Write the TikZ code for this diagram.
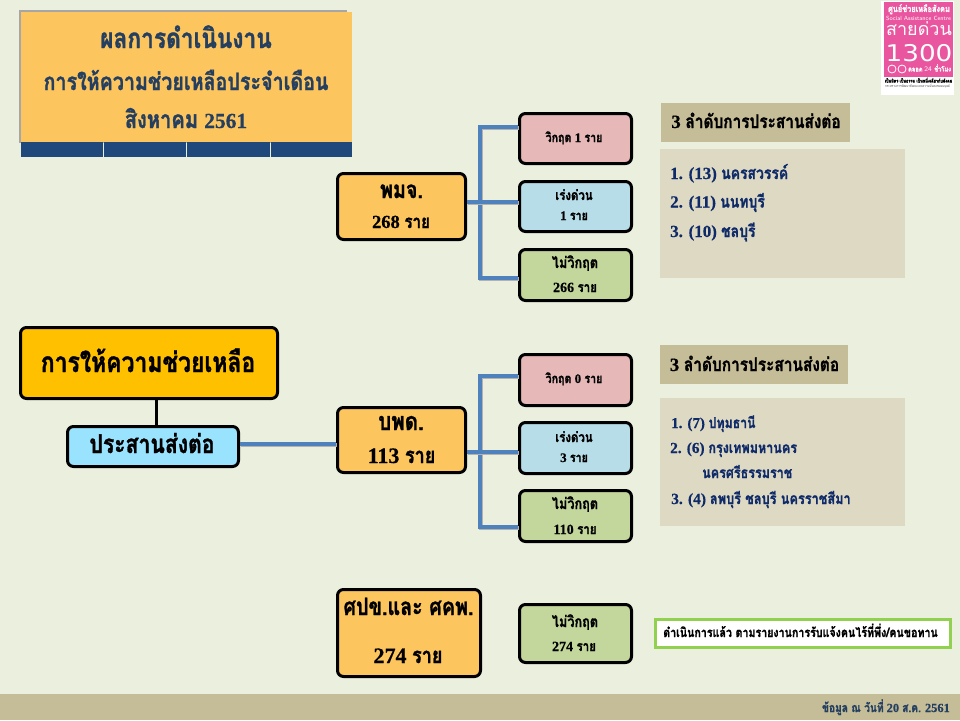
\documentclass[tikz,border=0pt]{standalone}
\usepackage{fontspec}
\setmainfont{Liberation Serif}[BoldFeatures={FakeBold=0.5}]
\newfontfamily\thaif[Script=Thai,FakeStretch=0.82,BoldFeatures={FakeBold=1.2}]{Loma}
\newfontfamily\thaiw[Script=Thai]{Loma}
\newfontfamily\dejaf[FakeStretch=1.14]{DejaVu Sans}
\newcommand{\T}[1]{{\thaif\bfseries #1}}
\newcommand{\fs}[1]{\fontsize{#1}{#1}\selectfont\bfseries}
\definecolor{bgc}{HTML}{EBEFDE}
\definecolor{orangec}{HTML}{FDC55D}
\definecolor{goldc}{HTML}{FFC000}
\definecolor{pinkc}{HTML}{E6B8B7}
\definecolor{bluec}{HTML}{B7DDE8}
\definecolor{greenc}{HTML}{C3D69B}
\definecolor{skyc}{HTML}{99E3FF}
\definecolor{tanc}{HTML}{C4BD97}
\definecolor{listc}{HTML}{DDD9C3}
\definecolor{navyc}{HTML}{1F497D}
\definecolor{titlec}{HTML}{243F60}
\definecolor{listt}{HTML}{0F2A68}
\definecolor{connc}{HTML}{4F81BD}
\definecolor{logoc}{HTML}{E9559F}
\definecolor{notec}{HTML}{92D050}
\tikzset{
  x=1pt,y=-1pt,
  boxed/.style={draw=black,line width=3pt,rounded corners=6pt,inner sep=0pt},
  flat/.style={inner sep=0pt,align=center},
  conn/.style={draw=connc,line width=4.2pt,line join=miter,preaction={draw=black!30,line width=4.2pt,transform canvas={xshift=0.8pt,yshift=-1.2pt}}},
  blk/.style={draw=black,line width=3pt},
  lbl/.style={inner sep=0pt,anchor=base,text=black},
  lft/.style={inner sep=0pt,anchor=base west,text=listt},
  lw/.style={inner sep=0pt,anchor=base,text=white},
}
% #1 name #2 left #3 top #4 right #5 bottom #6 fill
\newcommand{\rbox}[6]{\node[boxed,fill=#6,minimum width=#4-#2-3,minimum height=#5-#3-3] (#1) at ({(#2+#4)/2},{(#3+#5)/2}) {};}
\begin{document}
\begin{tikzpicture}
\useasboundingbox (0,0) rectangle (960,720);
\fill[bgc] (0,0) rectangle (960,720);
% title
\fill[black!35] (19,10) rectangle (347,143);
\node[flat,fill=orangec,minimum width=331,minimum height=130] (title) at (186.5,77) {};
\node[lbl,text=titlec] (t1) at (186,48) {\fs{27.7}\T{ผลการดำเนินงาน}};
\node[lbl,text=titlec] (t2) at (186,90) {\fs{24}\T{การให้ความช่วยเหลือประจำเดือน}};
\node[lbl,text=titlec] (t3) at (186,128) {\fs{24.5}\T{สิงหาคม} \fontsize{21.5}{21.5}\selectfont 2561};
\foreach \a/\b/\n in {21/103/s1,104/186/s2,187/270/s3,271/352/s4}
  \node[flat,fill=navyc,minimum width=\b-\a,minimum height=15] (\n) at ({(\a+\b)/2},149.5) {};
% logo
\node[flat,fill=white,minimum width=73,minimum height=94] (logoback) at (917.5,48) {};
\node[flat,fill=logoc,minimum width=69,minimum height=75] (logo) at (918.5,39.5) {};
\node[lw] (l1) at (919,12) {\fs{9}\T{ศูนย์ช่วยเหลือสังคม}};
\node[lw] (l2) at (918.5,20) {\fontsize{6}{6}\selectfont\sffamily Social Assistance Centre};
\node[lw] (l3) at (919,35.5) {\fontsize{18}{18}\selectfont\thaiw สายด่วน};
\node[lw] (l4) at (919,61) {\fontsize{23}{23}\selectfont\dejaf 1300};
\draw[white,line width=.8pt] (892,69) circle (4) (902,69) circle (4);
\node[lft,text=white] (l5) at (908,71.5) {\fontsize{7}{7}\selectfont{\thaif\bfseries ตลอด} \sffamily 24 {\thaif\bfseries ชั่วโมง}};
\node[lbl] (l6) at (918.5,82.5) {\fs{4.7}\T{เป็นมิตร เป็นธรรม เป็นหนึ่งเดียวกับสังคม}};
\node[lbl,text=black!70] (l7) at (917.5,87.5) {\fontsize{3.6}{3.6}\selectfont{\thaif กระทรวงการพัฒนาสังคมและความมั่นคงของมนุษย์}};
% row 1
\rbox{pmj}{336}{172}{467}{241}{orangec}
\node[lbl] (pmj1) at (401.5,198) {\fs{24}\T{พมจ.}};
\node[lbl] (pmj2) at (401,228) {\fs{18.5}268 \T{ราย}};
\rbox{a1}{518}{112}{633}{165}{pinkc}
\node[lbl] (a1t) at (574,142) {\fs{13}\T{วิกฤต} 1 \T{ราย}};
\rbox{a2}{518}{180}{633}{233}{bluec}
\node[lbl] (a2t) at (574,200) {\fs{14}\T{เร่งด่วน}};
\node[lbl] (a2u) at (574,220) {\fs{13}1 \T{ราย}};
\rbox{a3}{518}{248}{633}{302}{greenc}
\node[lbl] (a3t) at (575,268) {\fs{15.5}\T{ไม่วิกฤต}};
\node[lbl] (a3u) at (575,292) {\fs{14}266 \T{ราย}};
% row 2
\rbox{help}{19}{326}{279}{400}{goldc}
\node[lbl] (helpt) at (148,372) {\fs{28}\T{การให้ความช่วยเหลือ}};
\rbox{coord}{66}{425}{240}{468}{skyc}
\node[lbl] (coordt) at (152,453) {\fs{25.8}\T{ประสานส่งต่อ}};
\rbox{bpk}{336}{406}{467}{474}{orangec}
\node[lbl] (bpk1) at (401,430) {\fs{25}\T{บพด.}};
\node[lbl] (bpk2) at (401.5,463) {\fs{22}113 \T{ราย}};
\rbox{b1}{518}{353}{633}{407}{pinkc}
\node[lbl] (b1t) at (574,383) {\fs{13}\T{วิกฤต} 0 \T{ราย}};
\rbox{b2}{518}{421}{633}{475}{bluec}
\node[lbl] (b2t) at (574,442) {\fs{14}\T{เร่งด่วน}};
\node[lbl] (b2u) at (574,462) {\fs{13}3 \T{ราย}};
\rbox{b3}{518}{489}{633}{543}{greenc}
\node[lbl] (b3t) at (575,509) {\fs{15.5}\T{ไม่วิกฤต}};
\node[lbl] (b3u) at (575,534) {\fs{14}110 \T{ราย}};
% row 3
\rbox{spk}{336}{588}{482}{678}{orangec}
\node[lbl] (spk1) at (408.5,615) {\fs{24}\T{ศปข.และ ศคพ.}};
\node[lbl] (spk2) at (408,663) {\fs{22}274 \T{ราย}};
\rbox{c1}{518}{603}{633}{664}{greenc}
\node[lbl] (c1t) at (575,627) {\fs{15.5}\T{ไม่วิกฤต}};
\node[lbl] (c1u) at (574,651) {\fs{14}274 \T{ราย}};
\node[flat,draw=notec,fill=white,line width=3pt,minimum width=295,minimum height=28] (note) at (803,633.5) {};
\node[lbl] (notet) at (800.5,637) {\fs{13}\T{ดำเนินการแล้ว ตามรายงานการรับแจ้งคนไร้ที่พึ่ง/คนขอทาน}};
% connectors
\coordinate (j1) at (480,202);
\coordinate (j1t) at (480,127);
\coordinate (j1b) at (480,278);
\coordinate (j2) at (480,452);
\coordinate (j2t) at (480,376);
\coordinate (j2b) at (480,527);
\coordinate (j3) at (240,444);
\coordinate (j4) at (156,0);
\draw[conn] (a1.west |- j1t) -- (j1t) -- (j1b) -- (a3.west |- j1b);
\draw[conn] (pmj.east |- j1) -- (a2.west |- j1);
\draw[conn] (b1.west |- j2t) -- (j2t) -- (j2b) -- (b3.west |- j2b);
\draw[conn] (bpk.east |- j2) -- (b2.west |- j2);
\draw[conn] (coord.east |- j3) -- (bpk.west |- j3);
\draw[blk] (help.south -| j4) -- (coord.north -| j4);
% right panels
\node[flat,fill=tanc,minimum width=189,minimum height=39] (h1) at (755.5,122.5) {};
\node[lbl] (h1t) at (756,128) {\fs{18.8}3 \T{ลำดับการประสานส่งต่อ}};
\node[flat,fill=listc,minimum width=245,minimum height=129] (p1) at (782.5,213.5) {};
\node[lft] (p1a) at (670,179) {\fs{17}1. (13) \T{นครสวรรค์}};
\node[lft] (p1b) at (670,207.5) {\fs{17}2. (11) \T{นนทบุรี}};
\node[lft] (p1c) at (670,237) {\fs{17}3. (10) \T{ชลบุรี}};
\node[flat,fill=tanc,minimum width=188,minimum height=39] (h2) at (754,364.5) {};
\node[lbl] (h2t) at (754.5,371) {\fs{18.8}3 \T{ลำดับการประสานส่งต่อ}};
\node[flat,fill=listc,minimum width=245,minimum height=128] (p2) at (782.5,462) {};
\node[lft] (p2a) at (671,428) {\fs{15}1. (7) \T{ปทุมธานี}};
\node[lft] (p2b) at (670,453) {\fs{15.3}2. (6) \T{กรุงเทพมหานคร}};
\node[lft] (p2c) at (702,478) {\fs{15.3}\T{นครศรีธรรมราช}};
\node[lft] (p2d) at (671,504) {\fs{15.5}3. (4) \T{ลพบุรี ชลบุรี นครราชสีมา}};
% footer
\node[flat,fill=tanc,minimum width=960,minimum height=26] (foot) at (480,707) {};
\node[inner sep=0pt,anchor=base east,text=titlec] (ft) at (950,712) {\fs{12.4}\T{ข้อมูล ณ วันที่} 20 \T{ส.ค.} 2561};
\end{tikzpicture}
\end{document}
